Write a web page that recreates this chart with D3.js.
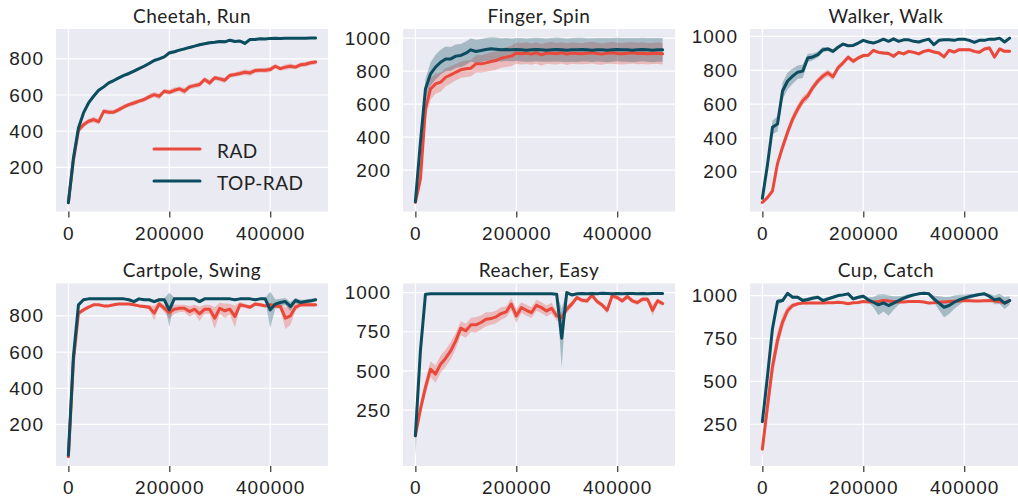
<!DOCTYPE html>
<html>
<head>
<meta charset="utf-8">
<script src="https://cdn.jsdelivr.net/npm/d3@7"></script>
<style>
  html, body { margin: 0; padding: 0; background: #fff; }
  svg { display: block; font-family: Lato, "Open Sans", sans-serif; }
</style>
</head>
<body>
<svg id="chart" width="1018" height="498"></svg>
<script>
// environment steps, one point per 10000
const steps = [0,10000,20000,30000,40000,50000,60000,70000,80000,90000,
  100000,110000,120000,130000,140000,150000,160000,170000,180000,190000,
  200000,210000,220000,230000,240000,250000,260000,270000,280000,290000,
  300000,310000,320000,330000,340000,350000,360000,370000,380000,390000,
  400000,410000,420000,430000,440000,450000,460000,470000,480000,490000];

const seriesNames = ["RAD", "TOP-RAD"];
const titles = ["Cheetah, Run", "Finger, Spin", "Walker, Walk", "Cartpole, Swing", "Reacher, Easy", "Cup, Catch"];
const xTicks = [0, 200000, 400000];
const yTicks200 = [200, 400, 600, 800];
const yTicks1000 = [200, 400, 600, 800, 1000];
const yTicks250 = [250, 500, 750, 1000];

const cheetahRad = [5,240,405,436,455,464,453,510,505,505,
  519,534,547,556,566,575,590,602,593,621,
  615,626,634,621,645,652,658,686,667,695,
  689,682,708,713,719,726,722,735,737,737,
  741,759,746,754,759,754,767,770,778,782];
const cheetahRadErr = [3,20,18,15,14,16,15,14,13,12,14,13,12,14,12,13,15,14,16,13,
  14,15,13,18,14,13,15,14,16,12,14,15,13,12,14,15,16,13,12,14,15,13,12,14,15,12,13,14,12,13];
const cheetahTop = [5,250,418,501,556,593,626,645,667,680,
  695,708,719,732,746,759,774,791,800,811,
  833,839,848,855,863,870,878,883,889,892,
  896,894,903,896,898,885,907,907,911,909,
  913,914,913,914,914,914,914,914,915,915];
const cheetahTopErr = [3,15,12,10,9,8,8,8,9,8,8,7,8,9,8,9,10,9,8,9,
  12,9,8,9,8,7,8,7,8,7,8,9,7,8,7,12,6,5,6,5,5,5,5,4,4,4,4,4,4,4];

const fingerRad = [5,145,571,692,723,733,763,777,793,808,
  814,818,844,844,850,858,864,878,885,891,
  909,905,909,903,911,899,909,909,905,911,
  903,909,907,905,909,911,907,903,909,911,
  907,905,909,911,907,909,905,907,909,905];
const fingerRadErr = [5,30,60,65,60,58,55,52,50,50,50,50,52,52,54,55,56,58,60,62,
  64,65,66,65,64,66,65,67,65,64,66,65,65,64,66,65,67,65,64,66,65,65,66,64,65,66,65,64,66,65];
const fingerTop = [10,368,692,783,824,854,874,874,891,895,
  909,929,919,925,931,935,933,929,931,929,
  931,929,927,929,931,929,927,929,931,929,
  927,929,929,931,929,927,929,929,927,929,
  931,929,929,927,929,931,929,927,929,929];
const fingerTopErr = [5,40,60,70,75,75,75,72,70,70,70,70,71,70,69,70,71,70,70,69,
  70,71,70,72,71,72,70,72,73,72,71,72,73,72,70,72,71,72,73,72,71,72,72,73,72,71,72,73,72,72];

const walkerRad = [20,48,87,249,346,434,512,571,620,649,
  698,737,766,785,762,815,844,877,854,873,
  887,889,918,906,902,899,883,906,897,912,
  906,897,912,918,908,902,879,918,908,922,
  922,922,912,906,926,932,879,926,912,912];
const walkerRadErr = [5,8,15,25,30,30,30,28,25,25,22,20,20,20,20,18,15,15,15,12,
  12,10,10,10,10,10,12,10,10,10,10,10,10,10,10,10,12,10,10,10,10,10,10,10,10,10,15,10,10,10];
const walkerTop = [44,239,463,483,678,737,766,789,795,873,
  879,893,922,926,912,936,955,945,947,961,
  977,967,961,971,984,971,986,971,980,980,
  971,967,977,984,951,977,980,980,977,984,
  984,977,965,977,977,984,984,990,967,990];
const walkerTopErr = [10,25,40,45,50,50,45,40,40,25,20,18,15,12,12,10,8,8,8,8,
  6,6,6,6,6,6,5,5,5,5,5,5,5,5,5,5,5,5,5,5,5,5,5,5,5,5,5,5,5,5];

const cartpoleRad = [21,550,815,833,848,861,861,855,855,861,
  866,866,866,861,855,852,848,815,866,842,
  818,837,842,842,824,837,811,837,837,787,
  842,828,837,796,861,855,848,865,861,855,
  861,855,852,787,800,848,861,861,861,861];
const cartpoleRadErr = [5,30,15,10,8,6,6,6,5,5,5,5,5,6,8,10,12,40,15,20,
  35,25,20,20,30,25,40,25,25,60,30,40,30,60,15,12,12,10,10,10,10,12,15,60,50,20,12,10,10,10];
const cartpoleTop = [30,575,861,889,894,894,894,894,894,894,
  894,894,889,879,894,889,889,879,889,889,
  833,894,894,894,894,894,879,894,894,894,
  894,894,894,889,894,894,894,889,894,894,
  833,865,874,879,852,885,874,879,883,889];
const cartpoleTopErr = [5,30,10,6,4,4,4,4,4,4,4,4,6,8,5,6,6,10,8,8,
  95,8,6,6,6,6,10,6,5,5,5,5,5,6,5,5,5,5,5,5,100,25,20,20,25,15,15,12,12,10];

const reacherRad = [86,256,395,511,480,543,581,628,692,773,
  756,794,794,809,830,834,845,866,877,926,
  851,904,887,872,919,904,883,900,851,841,
  894,926,968,951,947,983,943,921,887,979,
  968,947,975,947,936,958,958,887,947,930];
const reacherRadErr = [10,40,50,50,55,55,55,55,50,45,45,45,50,45,45,40,40,40,35,40,
  45,35,35,35,35,35,35,35,30,30,25,20,15,15,15,15,15,15,20,15,15,15,15,15,15,15,15,35,15,15];
const reacherTop = [86,628,989,992,993,992,993,993,992,993,
  993,992,993,993,992,993,993,992,993,993,
  993,992,993,993,992,993,993,992,990,709,
  1000,985,993,994,993,994,993,995,994,993,
  994,993,994,994,993,994,993,994,994,994];
const reacherTopErr = [140,60,8,4,3,3,3,3,3,3,3,3,3,3,3,3,3,3,3,3,
  3,3,3,3,3,3,3,3,3,190,5,4,3,3,3,3,3,3,3,3,3,3,3,3,3,3,3,3,3,3];

const cupRad = [105,352,584,739,845,913,942,952,956,956,
  957,957,957,958,958,961,958,952,958,960,
  965,963,962,965,971,968,965,962,963,965,
  965,966,963,956,958,961,963,965,967,969,
  971,970,969,968,970,971,968,965,957,971];
const cupRadErr = [50,70,65,55,40,25,15,10,8,6,6,6,6,6,6,6,6,6,6,6,
  6,6,6,6,6,6,6,6,6,6,6,6,6,6,6,6,6,6,6,6,6,6,6,6,6,6,6,6,6,6];
const cupTop = [265,526,807,965,971,1013,990,990,971,977,
  985,990,971,981,990,1000,1004,1010,981,990,
  996,975,961,946,957,942,956,971,985,996,
  1004,1010,1014,1010,981,956,932,942,961,975,
  985,994,1000,1006,1010,996,975,981,956,971];
const cupTopErr = [10,20,20,15,12,8,10,10,12,10,12,10,12,10,10,8,8,8,10,10,
  10,15,30,60,50,60,40,25,15,12,10,8,8,8,20,40,60,50,40,30,20,15,10,8,8,15,25,30,35,25];

const panels = [
  {title: titles[0], yTicks: yTicks200, rad: cheetahRad, radErr: cheetahRadErr, top: cheetahTop, topErr: cheetahTopErr},
  {title: titles[1], yTicks: yTicks1000, rad: fingerRad, radErr: fingerRadErr, top: fingerTop, topErr: fingerTopErr},
  {title: titles[2], yTicks: yTicks1000, rad: walkerRad, radErr: walkerRadErr, top: walkerTop, topErr: walkerTopErr},
  {title: titles[3], yTicks: yTicks200, rad: cartpoleRad, radErr: cartpoleRadErr, top: cartpoleTop, topErr: cartpoleTopErr},
  {title: titles[4], yTicks: yTicks250, rad: reacherRad, radErr: reacherRadErr, top: reacherTop, topErr: reacherTopErr},
  {title: titles[5], yTicks: yTicks250, rad: cupRad, radErr: cupRadErr, top: cupTop, topErr: cupTopErr}
];

const colors = {RAD: "#e9493a", "TOP-RAD": "#0b4c5f"};
const bg = "#eaeaf2";
const textColor = "#222";
const fontSize = 19;

const colLeft = [56, 403, 750];
const rowTop = [29, 283.5];
const pw = 272, ph = 182.5;

const svg = d3.select("#chart");

// matplotlib style 5% margins
const padExtent = (lo, hi) => {
  const m = (hi - lo) * 0.05;
  return [lo - m, hi + m];
};

panels.forEach((p, idx) => {
  const col = idx % 3, row = Math.floor(idx / 3);
  const g = svg.append("g").attr("transform", `translate(${colLeft[col]},${rowTop[row]})`);

  const x = d3.scaleLinear()
    .domain(padExtent(steps[0], steps[steps.length - 1]))
    .range([0, pw]);

  const lows = p.rad.map((v, i) => v - p.radErr[i]).concat(p.top.map((v, i) => v - p.topErr[i]));
  const highs = p.rad.map((v, i) => v + p.radErr[i]).concat(p.top.map((v, i) => v + p.topErr[i]));
  const y = d3.scaleLinear()
    .domain(padExtent(d3.min(lows), d3.max(highs)))
    .range([ph, 0]);

  g.append("rect").attr("width", pw).attr("height", ph).attr("fill", bg);

  // grid
  g.append("g").selectAll("line").data(xTicks).join("line")
    .attr("x1", d => x(d)).attr("x2", d => x(d))
    .attr("y1", 0).attr("y2", ph)
    .attr("stroke", "#fff").attr("stroke-width", 1.2);
  g.append("g").selectAll("line").data(p.yTicks).join("line")
    .attr("x1", 0).attr("x2", pw)
    .attr("y1", d => y(d)).attr("y2", d => y(d))
    .attr("stroke", "#fff").attr("stroke-width", 1.2);

  const series = [
    {name: "RAD", mean: p.rad, err: p.radErr},
    {name: "TOP-RAD", mean: p.top, err: p.topErr}
  ];

  const area = d3.area()
    .x((d, i) => x(steps[i]))
    .y0(d => y(d[0] - d[1]))
    .y1(d => y(d[0] + d[1]));
  const line = d3.line()
    .x((d, i) => x(steps[i]))
    .y(d => y(d));

  series.forEach(s => {
    g.append("path")
      .datum(s.mean.map((v, i) => [v, s.err[i]]))
      .attr("d", area)
      .attr("fill", colors[s.name])
      .attr("fill-opacity", 0.3);
  });
  series.forEach(s => {
    g.append("path")
      .datum(s.mean)
      .attr("d", line)
      .attr("fill", "none")
      .attr("stroke", colors[s.name])
      .attr("stroke-width", 3)
      .attr("stroke-linejoin", "round")
      .attr("stroke-linecap", "round");
  });

  // axes
  const xa = g.append("g").attr("transform", `translate(0,${ph})`)
    .call(d3.axisBottom(x).tickValues(xTicks).tickSize(6).tickPadding(9).tickFormat(d3.format("d")));
  xa.select(".domain").remove();
  xa.selectAll("line").attr("stroke", "#333").attr("stroke-width", 1.2);
  xa.selectAll("text").attr("font-size", fontSize).attr("fill", textColor)
    .attr("font-family", null).attr("letter-spacing", 1);

  const ya = g.append("g")
    .call(d3.axisLeft(y).tickValues(p.yTicks).tickSize(0).tickPadding(12).tickFormat(d3.format("d")));
  ya.select(".domain").remove();
  ya.selectAll("text").attr("font-size", fontSize).attr("fill", textColor)
    .attr("font-family", null).attr("letter-spacing", 1);

  g.append("text")
    .attr("x", pw / 2).attr("y", -6.5)
    .attr("text-anchor", "middle")
    .attr("font-size", fontSize)
    .attr("letter-spacing", 0.5)
    .attr("fill", textColor)
    .text(p.title);

  if (idx === 0) {
    const leg = g.append("g");
    seriesNames.forEach((name, i) => {
      const ly = 120 + i * 32;
      leg.append("line")
        .attr("x1", 98).attr("x2", 144).attr("y1", ly).attr("y2", ly)
        .attr("stroke", colors[name]).attr("stroke-width", 3).attr("stroke-linecap", "round");
      leg.append("text")
        .attr("x", 161).attr("y", ly + 1)
        .attr("dominant-baseline", "central")
        .attr("font-size", fontSize)
        .attr("letter-spacing", 0.5)
        .attr("fill", textColor)
        .text(name);
    });
  }
});
</script>
</body>
</html>
